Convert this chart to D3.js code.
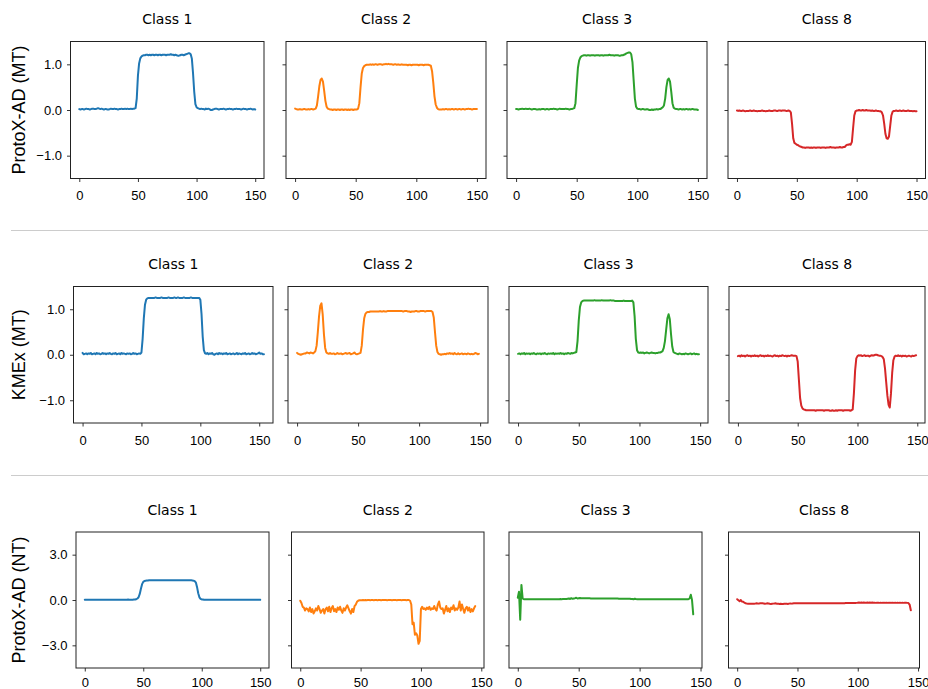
<!DOCTYPE html>
<html><head><meta charset="utf-8">
<script src="https://cdn.jsdelivr.net/npm/d3@7"></script>
<style>body{margin:0;background:#fff}svg{display:block}</style>
</head><body><svg id="c" width="928" height="689"></svg>
<script>
const classTitles=["Class 1","Class 2","Class 3","Class 8"];
const rowLabels=["ProtoX-AD (MT)","KMEx (MT)","ProtoX-AD (NT)"];
const xTicks=[0,50,100,150];
const yTicksMT=[-1,0,1];
const yTicksNT=[-3,0,3];
const colors=["#1f77b4","#ff7f0e","#2ca02c","#d62728"];

const protoMT_c1=[0.02,0.01,0.02,0.02,0.01,0.02,0.03,0.02,0.02,0.01,
0.02,0.03,0.03,0.02,0.02,0.03,0.04,0.03,0.02,0.03,
0.02,0.01,0.02,0.02,0.01,0.01,0.02,0.03,0.02,0.02,
0.03,0.02,0.02,0.01,0.02,0.02,0.03,0.02,0.02,0.03,
0.02,0.03,0.02,0.02,0.03,0.02,0.03,0.03,0.04,0.25,
0.75,1.02,1.13,1.17,1.19,1.20,1.20,1.21,1.21,1.20,
1.21,1.20,1.21,1.21,1.20,1.21,1.21,1.20,1.21,1.21,
1.20,1.21,1.21,1.21,1.20,1.21,1.21,1.21,1.22,1.21,
1.21,1.20,1.21,1.20,1.19,1.19,1.20,1.21,1.21,1.20,
1.21,1.22,1.23,1.24,1.24,1.22,1.12,0.80,0.40,0.13,
0.06,0.04,0.03,0.02,0.03,0.02,0.02,0.01,0.03,0.02,
0.03,0.02,0.00,0.00,0.01,0.02,0.03,0.03,0.02,0.01,
0.02,0.02,0.02,0.03,0.02,0.01,0.02,0.02,0.03,0.02,
0.02,0.01,0.02,0.02,0.03,0.02,0.02,0.02,0.01,0.02,
0.03,0.02,0.02,0.01,0.02,0.02,0.03,0.02,0.01,0.02,
0.01];
const protoMT_c2=[0.03,0.02,0.01,0.01,0.02,0.01,0.01,0.02,0.02,0.01,
0.01,0.02,0.01,0.02,0.02,0.01,0.02,0.03,0.10,0.30,
0.52,0.66,0.69,0.62,0.42,0.20,0.07,0.03,0.02,0.01,
0.01,0.00,0.01,0.01,0.00,0.01,0.01,0.00,0.01,0.01,
0.00,0.01,0.01,0.00,0.01,0.00,0.01,0.01,0.00,0.01,
0.01,0.01,0.03,0.15,0.50,0.80,0.92,0.96,0.98,0.99,
0.99,0.99,1.00,0.99,1.00,0.99,1.00,1.00,0.99,1.00,
1.00,1.00,0.99,1.00,1.00,1.01,1.00,1.01,1.00,1.00,
1.00,0.99,1.00,1.00,0.99,1.00,0.99,0.99,1.00,0.99,
0.99,0.99,0.99,0.98,0.99,0.99,0.98,0.99,0.99,0.99,
0.99,0.99,0.98,0.99,0.99,0.99,0.98,0.99,0.99,0.99,
0.99,0.98,0.97,0.85,0.60,0.30,0.12,0.05,0.02,0.01,
0.01,0.01,0.02,0.01,0.02,0.02,0.01,0.02,0.01,0.02,
0.02,0.01,0.02,0.02,0.01,0.02,0.02,0.01,0.02,0.02,
0.01,0.02,0.02,0.03,0.02,0.02,0.01,0.02,0.02,0.02,
0.02];
const protoMT_c3=[0.02,0.02,0.01,0.02,0.02,0.03,0.02,0.02,0.03,0.02,
0.02,0.03,0.02,0.01,0.02,0.02,0.02,0.01,0.01,0.02,
0.01,0.02,0.02,0.02,0.01,0.02,0.02,0.01,0.02,0.02,
0.02,0.03,0.02,0.02,0.01,0.02,0.03,0.02,0.02,0.02,
0.02,0.03,0.02,0.02,0.01,0.02,0.02,0.03,0.04,0.15,
0.55,0.92,1.08,1.15,1.18,1.19,1.20,1.20,1.19,1.20,
1.20,1.19,1.20,1.20,1.20,1.19,1.20,1.20,1.20,1.19,
1.20,1.20,1.19,1.20,1.20,1.20,1.20,1.21,1.20,1.20,
1.20,1.19,1.20,1.20,1.20,1.19,1.19,1.20,1.20,1.21,
1.22,1.24,1.25,1.26,1.26,1.22,1.05,0.65,0.25,0.07,
0.03,0.02,0.02,0.01,0.02,0.02,0.01,0.01,0.02,0.01,
0.00,0.00,0.01,0.00,0.01,0.01,0.02,0.01,0.02,0.02,
0.04,0.06,0.10,0.25,0.50,0.66,0.69,0.62,0.40,0.15,
0.05,0.03,0.02,0.02,0.01,0.02,0.02,0.01,0.02,0.01,
0.02,0.02,0.01,0.02,0.01,0.02,0.02,0.01,0.01,0.01,
0.00];
const protoMT_c4=[-0.01,-0.02,-0.01,-0.02,-0.02,-0.01,-0.02,-0.03,-0.02,-0.02,
-0.02,-0.01,-0.02,-0.02,-0.01,-0.02,-0.02,-0.03,-0.02,-0.02,
-0.02,-0.01,-0.02,-0.02,-0.03,-0.02,-0.02,-0.01,-0.02,-0.02,
-0.02,-0.01,-0.01,-0.02,-0.02,-0.01,-0.01,-0.02,-0.01,-0.01,
-0.01,-0.02,-0.02,-0.01,-0.02,-0.05,-0.30,-0.62,-0.72,-0.74,
-0.76,-0.77,-0.79,-0.80,-0.81,-0.82,-0.82,-0.83,-0.82,-0.82,
-0.82,-0.83,-0.82,-0.83,-0.82,-0.82,-0.83,-0.82,-0.82,-0.82,
-0.83,-0.82,-0.82,-0.82,-0.83,-0.82,-0.82,-0.82,-0.81,-0.82,
-0.82,-0.82,-0.83,-0.82,-0.82,-0.82,-0.81,-0.82,-0.82,-0.81,
-0.81,-0.78,-0.76,-0.76,-0.75,-0.76,-0.70,-0.40,-0.12,-0.03,
-0.01,-0.01,0.00,-0.01,-0.01,0.00,-0.01,-0.01,0.00,-0.01,
-0.01,-0.01,-0.02,-0.01,-0.02,-0.02,-0.01,-0.02,-0.02,-0.03,
-0.03,-0.05,-0.12,-0.30,-0.52,-0.62,-0.63,-0.58,-0.35,-0.12,
-0.04,-0.02,-0.02,-0.01,-0.02,-0.02,-0.01,-0.02,-0.02,-0.01,
-0.02,-0.02,-0.02,-0.01,-0.02,-0.02,-0.02,-0.03,-0.02,-0.03,
-0.03];

const kmexMT_c1=[0.04,0.01,0.02,0.03,0.01,0.03,0.02,0.04,0.01,0.02,
0.03,0.01,0.04,0.02,0.03,0.01,0.02,0.04,0.02,0.03,
0.01,0.03,0.02,0.04,0.02,0.01,0.03,0.02,0.04,0.01,
0.02,0.03,0.01,0.04,0.02,0.03,0.02,0.01,0.03,0.02,
0.03,0.01,0.02,0.04,0.02,0.03,0.01,0.02,0.03,0.02,
0.05,0.35,0.80,1.10,1.21,1.24,1.25,1.25,1.25,1.25,
1.25,1.25,1.26,1.25,1.25,1.25,1.25,1.26,1.25,1.25,
1.25,1.25,1.25,1.26,1.25,1.25,1.25,1.25,1.26,1.25,
1.25,1.26,1.25,1.25,1.25,1.25,1.26,1.25,1.25,1.25,
1.25,1.25,1.26,1.25,1.25,1.25,1.25,1.25,1.25,1.25,
1.21,0.90,0.40,0.10,0.03,0.02,0.04,0.01,0.03,0.02,
0.04,0.01,0.00,0.02,0.03,0.01,0.04,0.02,0.03,0.01,
0.03,0.02,0.04,0.01,0.02,0.03,0.01,0.02,0.03,0.01,
0.02,0.04,0.01,0.03,0.02,0.01,0.03,0.02,0.04,0.01,
0.02,0.03,0.01,0.02,0.04,0.02,0.03,0.01,0.02,0.03,
0.05,0.02,0.03,0.01,0.01];
const kmexMT_c2=[0.04,0.02,0.01,0.00,0.01,0.02,0.03,0.03,0.05,0.04,
0.03,0.05,0.04,0.03,0.05,0.08,0.20,0.50,0.85,1.08,
1.13,0.88,0.45,0.15,0.05,0.03,0.02,0.04,0.02,0.02,
0.03,0.01,0.02,0.04,0.02,0.02,0.03,0.01,0.02,0.03,
0.04,0.02,0.03,0.04,0.01,0.02,0.03,0.05,0.02,0.01,
0.02,0.03,0.04,0.20,0.55,0.80,0.90,0.93,0.94,0.94,
0.95,0.95,0.95,0.95,0.95,0.95,0.95,0.95,0.96,0.95,
0.95,0.96,0.95,0.95,0.96,0.96,0.96,0.96,0.96,0.96,
0.96,0.96,0.96,0.96,0.96,0.96,0.96,0.95,0.96,0.96,
0.96,0.95,0.95,0.94,0.95,0.95,0.95,0.96,0.96,0.95,
0.95,0.96,0.96,0.96,0.96,0.95,0.96,0.96,0.96,0.96,
0.96,0.94,0.82,0.50,0.20,0.06,0.02,0.01,0.00,0.01,
0.01,0.02,0.01,0.03,0.02,0.04,0.02,0.03,0.01,0.04,
0.02,0.01,0.03,0.01,0.02,0.03,0.01,0.02,0.02,0.01,
0.03,0.02,0.01,0.02,0.01,0.02,0.04,0.03,0.01,0.02];
const kmexMT_c3=[0.02,0.03,0.01,0.03,0.02,0.04,0.01,0.03,0.02,0.03,
0.01,0.03,0.02,0.04,0.02,0.01,0.03,0.02,0.03,0.01,
0.03,0.02,0.04,0.02,0.01,0.03,0.02,0.03,0.02,0.04,
0.01,0.03,0.02,0.03,0.02,0.04,0.02,0.03,0.01,0.03,
0.02,0.04,0.03,0.02,0.04,0.03,0.04,0.05,0.06,0.30,
0.75,1.05,1.15,1.18,1.19,1.19,1.19,1.19,1.19,1.19,
1.19,1.19,1.19,1.20,1.19,1.19,1.19,1.19,1.19,1.20,
1.19,1.19,1.19,1.19,1.19,1.19,1.20,1.19,1.19,1.19,
1.18,1.18,1.18,1.18,1.18,1.18,1.18,1.19,1.18,1.18,
1.18,1.18,1.18,1.18,1.19,1.15,0.85,0.35,0.10,0.05,
0.04,0.05,0.04,0.05,0.03,0.04,0.05,0.04,0.03,0.04,
0.05,0.04,0.04,0.03,0.04,0.04,0.05,0.05,0.06,0.08,
0.15,0.30,0.55,0.80,0.89,0.78,0.45,0.18,0.06,0.04,
0.03,0.02,0.01,0.03,0.02,0.01,0.02,0.01,0.03,0.02,
0.01,0.02,0.03,0.01,0.02,0.03,0.01,0.02,0.01,0.01];
const kmexMT_c4=[-0.03,-0.02,-0.04,-0.01,-0.03,-0.02,-0.04,-0.02,-0.01,-0.03,
-0.02,-0.04,-0.02,-0.03,-0.01,-0.03,-0.02,-0.04,-0.02,-0.01,
-0.03,-0.02,-0.04,-0.02,-0.03,-0.01,-0.03,-0.02,-0.03,-0.04,
-0.02,-0.01,-0.03,-0.02,-0.04,-0.02,-0.03,-0.01,-0.02,-0.03,
-0.02,-0.04,-0.02,-0.03,-0.02,-0.01,-0.02,-0.02,-0.02,-0.03,
-0.15,-0.55,-0.95,-1.12,-1.18,-1.20,-1.21,-1.22,-1.22,-1.22,
-1.22,-1.22,-1.22,-1.22,-1.22,-1.23,-1.22,-1.22,-1.22,-1.22,
-1.22,-1.22,-1.23,-1.22,-1.22,-1.22,-1.22,-1.23,-1.23,-1.22,
-1.23,-1.23,-1.22,-1.23,-1.22,-1.22,-1.22,-1.22,-1.23,-1.22,
-1.22,-1.22,-1.22,-1.22,-1.23,-1.22,-1.20,-0.85,-0.35,-0.08,
-0.03,-0.01,-0.02,-0.01,-0.03,-0.02,-0.01,-0.03,-0.02,-0.02,
-0.04,-0.02,-0.01,-0.02,-0.01,0.00,0.00,-0.01,-0.02,-0.02,
-0.03,-0.05,-0.10,-0.30,-0.60,-0.90,-1.10,-1.16,-0.85,-0.40,
-0.12,-0.04,-0.02,-0.03,-0.01,-0.03,-0.02,-0.04,-0.02,-0.03,
-0.02,-0.04,-0.03,-0.02,-0.03,-0.04,-0.02,-0.03,-0.02,-0.01];

const protoNT_c1=[0.02,0.02,0.01,0.02,0.02,0.02,0.02,0.01,0.02,0.02,
0.02,0.02,0.01,0.02,0.02,0.02,0.02,0.02,0.01,0.01,
0.01,0.02,0.02,0.02,0.01,0.02,0.02,0.02,0.02,0.02,
0.02,0.02,0.02,0.02,0.02,0.02,0.02,0.03,0.02,0.02,
0.02,0.02,0.03,0.03,0.05,0.10,0.18,0.40,0.75,1.05,
1.20,1.26,1.28,1.29,1.29,1.30,1.30,1.30,1.30,1.30,
1.30,1.30,1.30,1.30,1.30,1.30,1.30,1.30,1.30,1.30,
1.30,1.30,1.30,1.30,1.30,1.30,1.31,1.30,1.30,1.30,
1.30,1.30,1.30,1.30,1.30,1.30,1.30,1.30,1.30,1.30,
1.30,1.30,1.29,1.28,1.25,1.15,0.85,0.45,0.18,0.08,
0.04,0.03,0.02,0.02,0.02,0.02,0.02,0.02,0.02,0.02,
0.02,0.02,0.01,0.02,0.02,0.02,0.02,0.02,0.01,0.02,
0.02,0.02,0.02,0.01,0.02,0.02,0.02,0.02,0.02,0.01,
0.02,0.02,0.02,0.02,0.01,0.02,0.02,0.02,0.02,0.02,
0.02,0.01,0.02,0.02,0.02,0.02,0.01,0.02,0.02,0.02,
0.01];
const protoNT_c2=[-0.05,-0.20,-0.45,-0.50,-0.70,-0.55,-0.60,-0.75,-0.50,-0.80,
-0.60,-0.90,-0.75,-0.55,-0.70,-0.40,-0.60,-0.85,-0.70,-0.60,
-0.90,-0.60,-0.50,-0.75,-0.45,-0.80,-0.55,-0.40,-0.75,-0.60,
-0.80,-0.50,-0.65,-0.45,-0.70,-0.85,-0.55,-0.70,-0.50,-0.35,
-0.55,-0.75,-0.90,-0.60,-0.80,-0.40,-0.30,-0.12,-0.05,-0.02,
-0.01,-0.01,0.00,-0.01,0.00,-0.01,0.00,0.00,-0.01,0.00,
0.00,-0.01,0.00,0.00,-0.01,0.00,0.00,-0.01,0.00,0.00,
0.00,0.00,-0.01,0.00,0.00,0.00,-0.01,0.00,0.00,0.00,
-0.01,0.00,0.00,0.00,-0.01,0.00,0.00,0.00,-0.01,0.00,
0.00,-0.05,-0.30,-1.60,-1.50,-2.30,-2.20,-2.35,-2.90,-2.70,
-0.60,-0.45,-0.60,-0.55,-0.65,-0.50,-0.60,-0.45,-0.65,-0.55,
-0.60,-0.40,-0.60,-0.70,-0.30,-0.10,-0.50,-0.60,-0.55,-0.90,
-0.65,-0.40,-0.75,-0.55,-0.80,-0.50,-0.60,-0.35,-0.70,-0.55,
-0.65,-0.50,-0.10,-0.70,-0.30,-0.60,-0.85,-0.55,-0.45,-0.70,
-0.50,-0.80,-0.60,-0.75,-0.55,-0.40];
const protoNT_c3=[0.15,0.55,-1.30,1.00,0.10,0.05,0.05,0.05,0.05,0.05,
0.05,0.05,0.05,0.05,0.05,0.05,0.05,0.05,0.05,0.05,
0.05,0.05,0.05,0.05,0.05,0.05,0.05,0.05,0.05,0.05,
0.05,0.05,0.05,0.05,0.05,0.06,0.05,0.06,0.06,0.06,
0.06,0.08,0.10,0.07,0.12,0.08,0.10,0.12,0.15,0.10,
0.12,0.13,0.12,0.12,0.12,0.11,0.11,0.11,0.11,0.11,
0.10,0.10,0.10,0.10,0.10,0.10,0.10,0.10,0.10,0.10,
0.10,0.10,0.10,0.10,0.10,0.10,0.10,0.10,0.10,0.10,
0.10,0.10,0.10,0.09,0.09,0.09,0.09,0.09,0.09,0.09,
0.09,0.08,0.08,0.06,0.07,0.05,0.08,0.06,0.05,0.05,
0.05,0.05,0.05,0.05,0.05,0.05,0.05,0.05,0.05,0.05,
0.05,0.05,0.05,0.05,0.05,0.05,0.05,0.05,0.05,0.05,
0.05,0.05,0.05,0.05,0.05,0.05,0.05,0.05,0.05,0.05,
0.05,0.05,0.05,0.05,0.05,0.05,0.05,0.05,0.05,0.05,
0.05,0.10,0.35,0.00,-0.95];
const protoNT_c4=[0.05,-0.02,-0.08,0.00,-0.10,-0.12,-0.18,-0.22,-0.24,-0.25,
-0.24,-0.25,-0.25,-0.24,-0.25,-0.24,-0.22,-0.23,-0.24,-0.22,
-0.21,-0.22,-0.23,-0.25,-0.24,-0.22,-0.23,-0.25,-0.26,-0.25,
-0.24,-0.23,-0.22,-0.25,-0.24,-0.26,-0.25,-0.27,-0.26,-0.25,
-0.25,-0.24,-0.26,-0.24,-0.23,-0.24,-0.23,-0.22,-0.22,-0.22,
-0.22,-0.22,-0.22,-0.22,-0.22,-0.22,-0.22,-0.22,-0.22,-0.22,
-0.22,-0.22,-0.22,-0.22,-0.22,-0.22,-0.22,-0.22,-0.22,-0.22,
-0.21,-0.21,-0.21,-0.21,-0.21,-0.21,-0.21,-0.21,-0.21,-0.21,
-0.21,-0.21,-0.21,-0.21,-0.21,-0.21,-0.21,-0.21,-0.21,-0.21,
-0.20,-0.20,-0.20,-0.20,-0.20,-0.20,-0.20,-0.20,-0.20,-0.19,
-0.18,-0.17,-0.18,-0.17,-0.18,-0.17,-0.18,-0.18,-0.17,-0.18,
-0.17,-0.18,-0.17,-0.18,-0.18,-0.19,-0.18,-0.18,-0.19,-0.18,
-0.19,-0.18,-0.19,-0.19,-0.18,-0.19,-0.18,-0.19,-0.19,-0.18,
-0.19,-0.18,-0.19,-0.18,-0.19,-0.18,-0.19,-0.18,-0.19,-0.18,
-0.18,-0.19,-0.20,-0.30,-0.68];

// ---- layout (positions only) ----
const rows=[
 {label:rowLabels[0],series:[protoMT_c1,protoMT_c2,protoMT_c3,protoMT_c4],yDomain:[-1.5,1.5],yTicks:yTicksMT,
  top:41.5,bottom:178.5,titleY:24,pad:9,cols:[[70.5,264],[286,486],[507,707],[728,925.5]]},
 {label:rowLabels[1],series:[kmexMT_c1,kmexMT_c2,kmexMT_c3,kmexMT_c4],yDomain:[-1.5,1.5],yTicks:yTicksMT,
  top:286.5,bottom:423,titleY:269,pad:9,cols:[[73.5,273],[288,488],[509,708],[729,925]]},
 {label:rowLabels[2],series:[protoNT_c1,protoNT_c2,protoNT_c3,protoNT_c4],yDomain:[-4.5,4.5],yTicks:yTicksNT,
  top:532,bottom:668,titleY:515,pad:6.5,cols:[[76,269],[291.5,484],[509,702],[728.5,919.5]]}
];
const separators=[230.5,475.5];

const svg=d3.select("#c");
svg.append("rect").attr("width",928).attr("height",689).attr("fill","#fff");
separators.forEach(y=>svg.append("line").attr("x1",11).attr("x2",928).attr("y1",y).attr("y2",y)
  .attr("stroke","#cccccc").attr("stroke-width",1));

const tickFont="'Liberation Sans', Arial, sans-serif";
rows.forEach((row,ri)=>{
  const y=d3.scaleLinear().domain(row.yDomain).range([row.bottom,row.top]);
  svg.append("text").attr("transform",`translate(25,${(row.top+row.bottom)/2}) rotate(-90)`)
    .attr("text-anchor","middle").attr("font-family","'Liberation Sans', Arial, sans-serif")
    .attr("font-size",18).attr("fill","#000").text(row.label);
  row.series.forEach((vals,ci)=>{
    const [l,r]=row.cols[ci];
    const n=vals.length-1;
    const x=d3.scaleLinear().domain([-0.05*n,1.05*n]).range([l,r]);
    const g=svg.append("g");
    g.append("text").attr("x",(l+r)/2).attr("y",row.titleY).attr("text-anchor","middle")
      .attr("font-family","'DejaVu Sans', Verdana, sans-serif").attr("font-size",14).attr("fill","#000")
      .text(classTitles[ci]);
    const xa=g.append("g").attr("transform",`translate(0,${row.bottom})`)
      .call(d3.axisBottom(x).tickValues(xTicks).tickSize(3.5).tickPadding(row.pad).tickFormat(d3.format("d")));
    const ya=g.append("g").attr("transform",`translate(${l},0)`)
      .call(d3.axisLeft(y).tickValues(row.yTicks).tickSize(3.5).tickPadding(5).tickFormat(ci===0?d3.format(".1f"):()=>""));
    [xa,ya].forEach(a=>{a.select(".domain").remove();
      a.selectAll("text").attr("font-family",tickFont).attr("font-size",13).attr("fill","#000");
      a.selectAll("line").attr("stroke","#000").attr("stroke-width",0.8);});
    g.append("path").datum(vals)
      .attr("d",d3.line().x((d,i)=>x(i)).y(d=>y(d)))
      .attr("fill","none").attr("stroke",colors[ci]).attr("stroke-width",2)
      .attr("stroke-linejoin","round").attr("stroke-linecap","round");
    g.append("rect").attr("x",l).attr("y",row.top).attr("width",r-l).attr("height",row.bottom-row.top)
      .attr("fill","none").attr("stroke","#222").attr("stroke-width",1);
  });
});
</script>
</body></html>
